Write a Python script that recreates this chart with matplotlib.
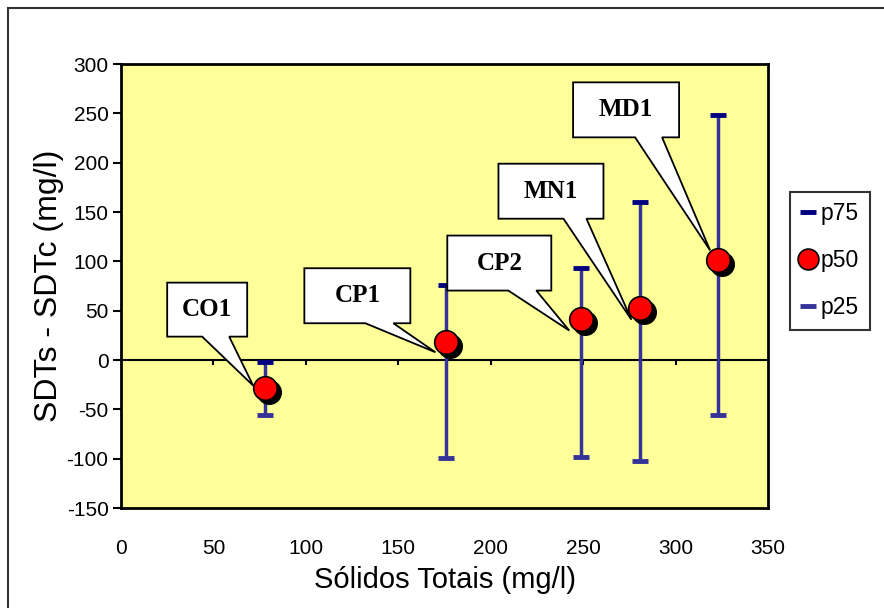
import numpy as np
import matplotlib.pyplot as plt
from matplotlib.lines import Line2D
from matplotlib.patches import Polygon
from matplotlib.transforms import offset_copy, ScaledTranslation

# data
sites = ["CO1", "CP1", "CP2", "MN1", "MD1"]
solidos = [78, 176, 249, 281, 323]
p50 = [-28, 18, 42, 53, 101]
p75 = [-2, 76, 93, 160, 248]
p25 = [-56, -99, -98, -102, -56]

# callout shapes, in pixels from the point: box (x0, x1, y0, y1), tail base (x0, x1), tip
boxes = [(-98, -18, 51, 105), (-142, -36, 19, 74), (-134, -30, 28, 83),
         (-142, -37, 89, 144), (-145, -39, 123, 178)]
tails = [(-63, -36), (-81, -53), (-73, -45), (-77, -54), (-83, -56)]
tips = [(-12, 2), (-11, -10), (-12, -12), (-9, -12), (-8, 10)]

plt.rcParams["font.family"] = ["Liberation Sans", "DejaVu Sans"]
plt.rcParams["axes.unicode_minus"] = False

fig = plt.figure(figsize=(8.84, 6.08), dpi=100)
ax = fig.add_axes([121/884, 100/608, 647/884, 444/608])
ax.set_facecolor("#FFFF99")

ax.set_xlim(0, 350)
ax.set_ylim(-150, 300)
ax.set_xticks(np.arange(0, 351, 50))
ax.set_yticks(np.arange(-150, 301, 50))

for s in ax.spines.values():
    s.set_linewidth(2)
    s.set_color("black")

ax.tick_params(axis="x", length=0, pad=22, labelsize=15)
ax.tick_params(axis="y", length=6, width=1.5, pad=3, labelsize=15)

# zero line with its own ticks
ax.axhline(0, color="black", lw=1.5, zorder=1)
ax.vlines(ax.get_xticks()[1:-1], -5, 0, color="black", lw=1.5, zorder=1)

# p25..p75 ranges
x = np.array(solidos)
ax.vlines(x, p25, p75, color="#333399", lw=2.5, zorder=2)
ax.plot(x, p75, "_", color="#000080", ms=11, mew=3.5, zorder=3)
ax.plot(x, p25, "_", color="#333399", ms=11, mew=3.5, zorder=3)

# callouts
px = fig.dpi
for name, xi, yi, b, t, tp in zip(sites, solidos, p50, boxes, tails, tips):
    tr = fig.dpi_scale_trans + ScaledTranslation(xi, yi, ax.transData)
    bx0, bx1, by0, by1 = b
    shape = [(bx0, by1), (bx1, by1), (bx1, by0), (t[1], by0), tp, (t[0], by0), (bx0, by0)]
    ax.add_patch(Polygon(np.array(shape) / px, closed=True, fc="white", ec="black",
                         lw=1.3, transform=tr, zorder=3.5))
    ax.text((bx0 + bx1) / 2 / px, (by0 + by1) / 2 / px, name, transform=tr,
            ha="center", va="center", fontsize=18, fontweight="bold",
            family="Liberation Serif", zorder=3.6)

# shadows + medians
shadow = offset_copy(ax.transData, fig=fig, x=4, y=-4, units="dots")
ax.plot(x, p50, "o", color="black", ms=17, transform=shadow, zorder=4)
ax.plot(x, p50, "o", mfc="red", mec="black", mew=1.2, ms=17, zorder=5)

ax.set_xlabel("Sólidos Totais (mg/l)", fontsize=21, labelpad=6)
ax.set_ylabel("SDTs - SDTc (mg/l)", fontsize=23, labelpad=2)

handles = [
    Line2D([], [], ls="none", marker="_", color="#000080", ms=11, mew=3.5),
    Line2D([], [], ls="none", marker="o", mfc="red", mec="black", mew=1.2, ms=15),
    Line2D([], [], ls="none", marker="_", color="#333399", ms=11, mew=3.5),
]
leg = fig.legend(handles, ["p75", "p50", "p25"], loc="upper left",
                 bbox_to_anchor=(790/884, 1 - 192/608), fontsize=16.5,
                 frameon=True, fancybox=False, handlelength=0.7,
                 handletextpad=0.2, borderpad=0.45, labelspacing=1.05,
                 borderaxespad=0)
leg.get_frame().set_edgecolor("black")
leg.get_frame().set_linewidth(1.5)

# outer frame (left and top edges visible)
fig.add_artist(Line2D([8/884, 1], [1 - 8/608, 1 - 8/608], color="#333333", lw=1.5))
fig.add_artist(Line2D([8/884, 8/884], [0, 1 - 8/608], color="#333333", lw=1.5))

fig.savefig("out.png", dpi=100)
